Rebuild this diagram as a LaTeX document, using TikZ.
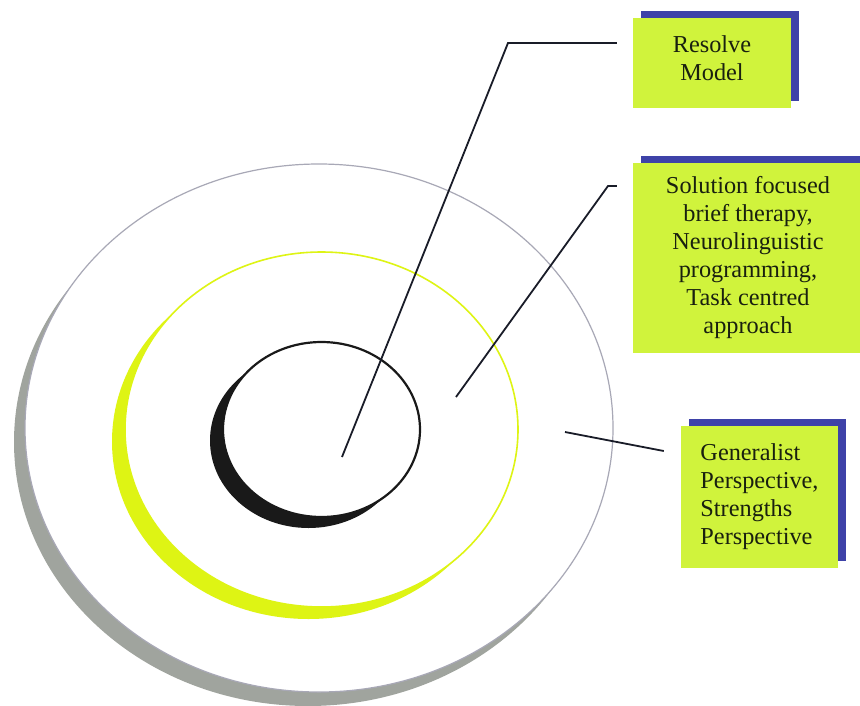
\documentclass[tikz,border=0pt]{standalone}
\usepackage{fontspec}
\setmainfont{Liberation Serif}
\usetikzlibrary{shadows}
\definecolor{boxfill}{RGB}{208,243,60}
\definecolor{boxshadow}{RGB}{62,66,168}
\definecolor{ringyellow}{RGB}{222,244,20}
\definecolor{ringgray}{RGB}{160,164,158}
\definecolor{ringline}{RGB}{168,168,182}
\definecolor{linecol}{RGB}{25,28,40}
\definecolor{textcol}{RGB}{25,32,15}
\begin{document}
\begin{tikzpicture}[x=1pt,y=-1pt,
  labelbox/.style={fill=boxfill, draw=none, inner sep=0pt,
    font=\fontsize{24.3}{28}\selectfont, text=textcol,
    drop shadow={shadow xshift=8pt, shadow yshift=7pt, fill=boxshadow, opacity=1}},
  labeltext/.style={inner sep=0pt, font=\fontsize{24.3}{28}\selectfont, text=textcol},
  leader/.style={draw=linecol, line width=1.8pt, line join=miter},
  ringface/.style={fill=white}
]
\useasboundingbox (0,0) rectangle (860,705);
\clip (0,0) rectangle (860,705);
\fill[white] (0,0) rectangle (860,705);

% outer ring
\fill[ringgray] (308,442) ellipse [x radius=294pt, y radius=264pt];
\filldraw[ringface, draw=ringline, line width=1.2pt] (319,428) ellipse [x radius=294pt, y radius=264pt];

% middle ring
\fill[ringyellow] (308.5,441.5) ellipse [x radius=196.5pt, y radius=177.5pt];
\filldraw[ringface, draw=ringyellow, line width=1.6pt] (321.5,429.5) ellipse [x radius=196.5pt, y radius=177.5pt];

% inner ring
\fill[black!90] (308.5,440.5) ellipse [x radius=98.5pt, y radius=87.5pt];
\filldraw[ringface, draw=black!90, line width=2.2pt] (321.5,429.5) ellipse [x radius=98.5pt, y radius=87.5pt];

% label boxes
\node[labelbox, minimum width=158pt, minimum height=90pt] (res) at (712,63) {};
\node[labeltext, align=center] (restext) at (712,58) {Resolve\\Model};
\node[labelbox, minimum width=230pt, minimum height=190pt, align=center] (sol) at (748,258) {Solution focused\\brief therapy,\\Neurolinguistic\\programming,\\Task centred\\approach};
\node[labelbox, minimum width=157pt, minimum height=142pt, align=left] (gen) at (759.5,497) {Generalist\\Perspective,\\Strengths\\Perspective};

% connectors
\coordinate (r0) at ([xshift=-16pt,yshift=20pt]res.west);
\coordinate (r1) at (508,43);
\coordinate (r2) at (342,457);
\draw[leader] (r0) -- (r1) -- (r2);

\coordinate (s0) at ([xshift=-16pt,yshift=72pt]sol.west);
\coordinate (s1) at (608,186);
\coordinate (s2) at (456,397);
\draw[leader] (s0) -- (s1) -- (s2);

\coordinate (g0) at ([xshift=-17pt,yshift=46pt]gen.west);
\coordinate (g1) at (565,432);
\draw[leader] (g0) -- (g1);
\end{tikzpicture}
\end{document}
